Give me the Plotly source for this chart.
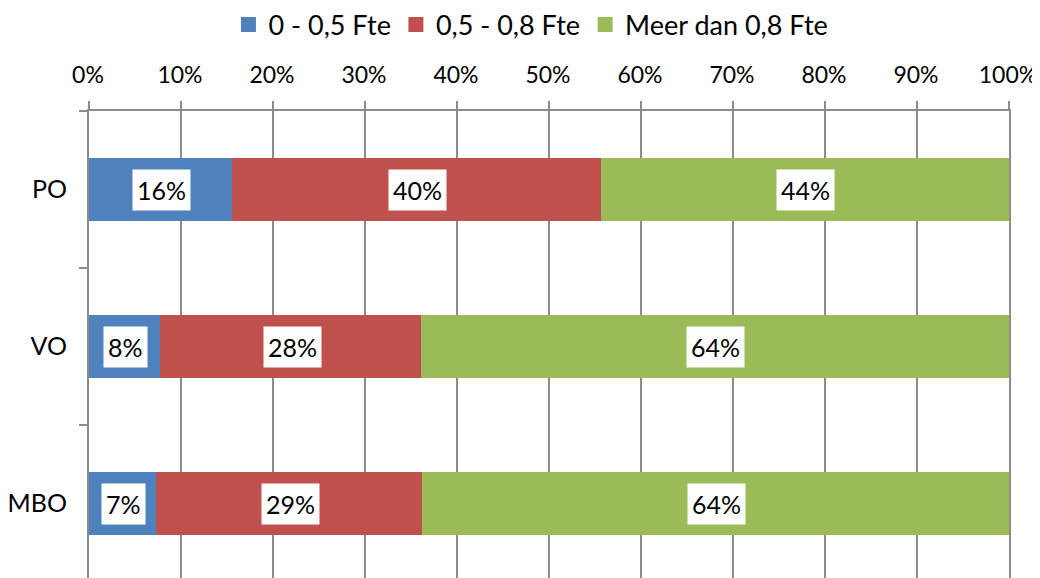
import plotly.graph_objects as go

categories = ["PO", "VO", "MBO"]
series_names = ["0 - 0,5 Fte", "0,5 - 0,8 Fte", "Meer dan 0,8 Fte"]
low = [15.7, 7.9, 7.4]
mid = [40.1, 28.4, 29.0]
high = [44.2, 63.7, 63.6]
tick_vals = [0, 10, 20, 30, 40, 50, 60, 70, 80, 90, 100]
tick_text = [f"{v}%" for v in tick_vals]

colors = ["#4F81BD", "#C0504D", "#9BBB59"]
FONT = "Lato"
FS = 25
GRID = "#8c8c8c"

fig = go.Figure()
series = [low, mid, high]
for name, vals, col in zip(series_names, series, colors):
    fig.add_trace(go.Bar(
        y=categories, x=vals, name=name, orientation="h",
        marker=dict(color=col, line=dict(width=3, color=col)),
    ))

# white-boxed data labels
for i, cat in enumerate(categories):
    base = 0
    for vals in series:
        v = vals[i]
        fig.add_annotation(
            x=base + v / 2, y=cat, xref="x", yref="y",
            text=f"{round(v):.0f}%", showarrow=False,
            font=dict(family=FONT, size=FS, color="black"),
            bgcolor="white", borderpad=4, height=32,
        )
        base += v

fig.update_layout(
    width=1040, height=578,
    barmode="stack", bargap=0.624,
    plot_bgcolor="white", paper_bgcolor="white",
    margin=dict(l=81, r=39, t=103, b=4),
    font=dict(family=FONT, size=FS, color="black"),
    legend=dict(orientation="h", x=0.4804, xanchor="center",
                y=0.9706, yref="container", yanchor="middle",
                font=dict(size=27), traceorder="normal", itemwidth=30),
    xaxis=dict(side="top", range=[0, 100], tickvals=tick_vals, ticktext=tick_text,
               tickfont=dict(size=23), ticklabelshift=-1,
               showgrid=True, gridcolor=GRID, gridwidth=2, zeroline=False,
               showline=True, linecolor=GRID, linewidth=2,
               ticks="outside", ticklen=8, tickcolor=GRID, tickwidth=2,
               ticklabelstandoff=9, automargin=False, fixedrange=True),
    yaxis=dict(categoryorder="array", categoryarray=categories,
               range=[2.5, -0.5], mirror=True,
               showline=True, linecolor=GRID, linewidth=2,
               tickson="boundaries", ticks="outside", ticklen=8, tickcolor=GRID,
               tickwidth=2, showgrid=False, ticklabelstandoff=15,
               automargin=False, fixedrange=True),
)

fig.write_html("out.html")
